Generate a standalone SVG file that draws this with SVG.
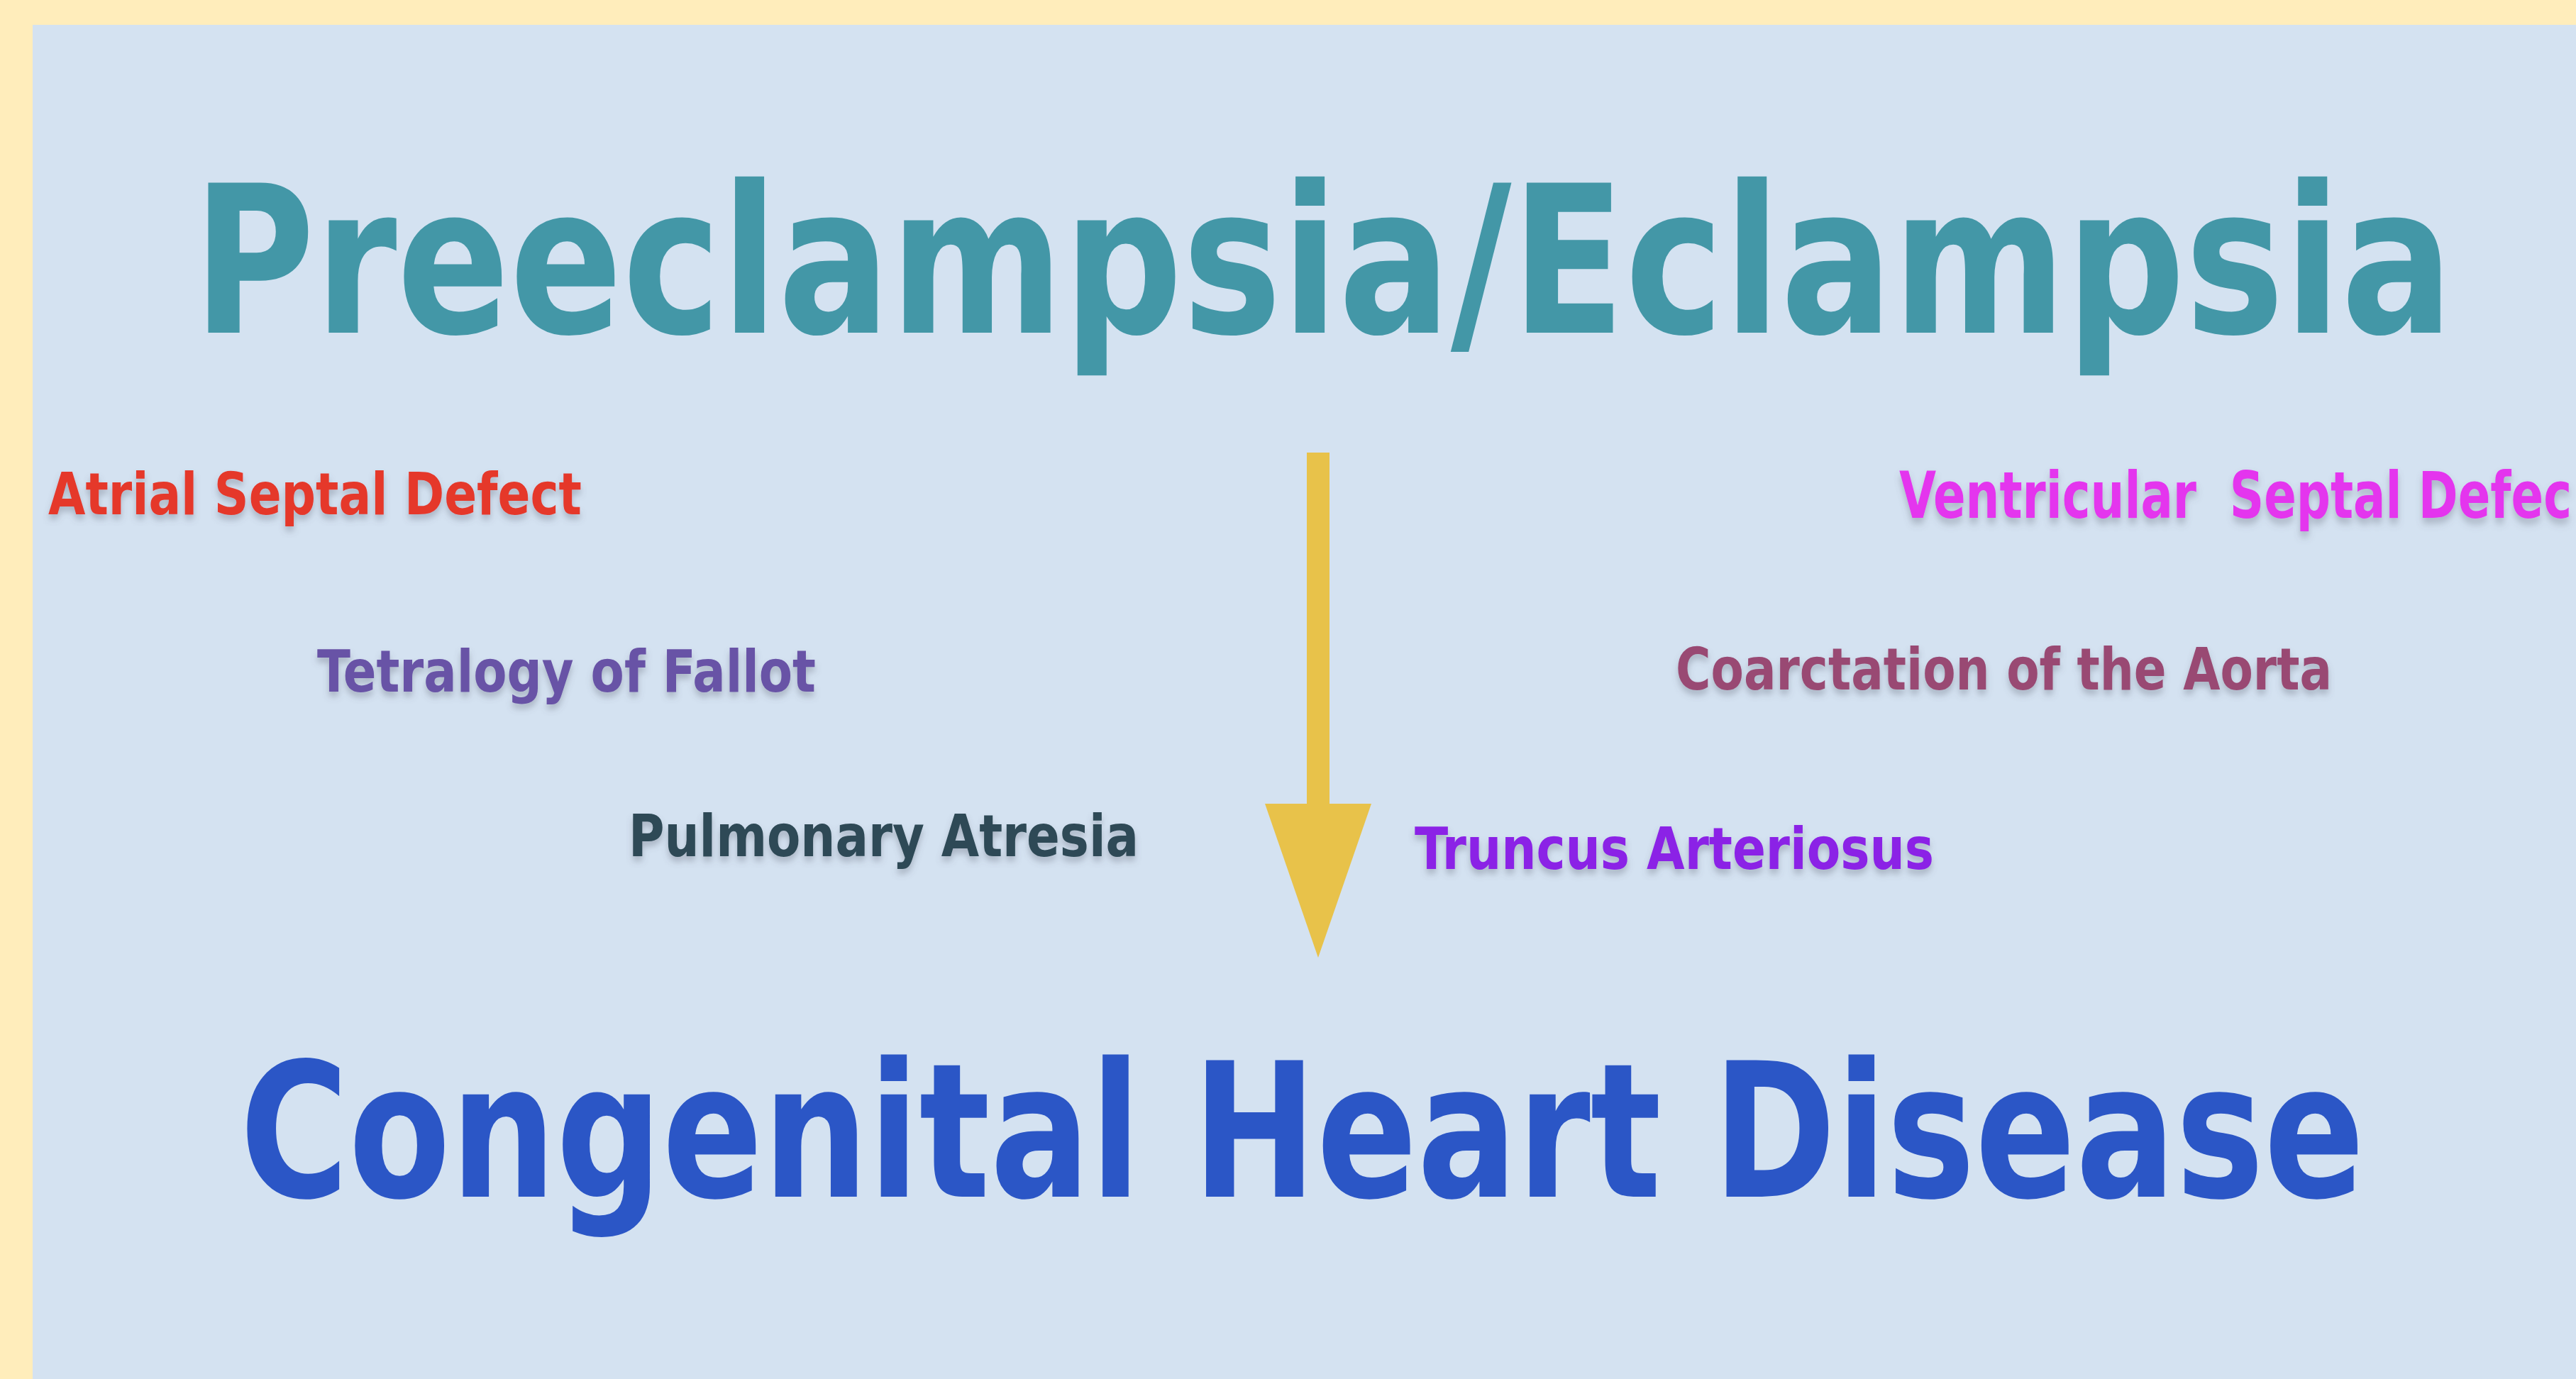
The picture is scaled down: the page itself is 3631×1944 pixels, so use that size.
<svg xmlns="http://www.w3.org/2000/svg" width="3631" height="1944" viewBox="0 0 3631 1944">
<style>
.t{font-family:"DejaVu Sans Condensed","DejaVu Sans","Liberation Sans",sans-serif;font-stretch:condensed;font-weight:bold;}
.lbl{font-family:"DejaVu Sans Condensed","DejaVu Sans","Liberation Sans",sans-serif;font-stretch:condensed;font-weight:bold;font-size:82px;filter:url(#sh);}
</style>
<defs>
<filter id="sh" x="-10%" y="-50%" width="120%" height="200%">
<feDropShadow dx="0" dy="7" stdDeviation="5" flood-color="#5a6070" flood-opacity="0.35"/>
</filter>
</defs>
<rect x="0" y="0" width="3631" height="1944" fill="#FFEDBB"/>
<rect x="46" y="35" width="3585" height="1909" fill="#D4E2F1"/>
<g id="title">
<text class="t" transform="translate(272,469) scale(1,1.2609)" x="0" y="0" font-size="230" fill="#4397A7" textLength="3186" lengthAdjust="spacingAndGlyphs">Preeclampsia/Eclampsia</text>
</g>
<g id="result">
<text class="t" transform="translate(338,1687) scale(1,1.2571)" x="0" y="0" font-size="210" fill="#2B56C6" textLength="2995" lengthAdjust="spacingAndGlyphs">Congenital Heart Disease</text>
</g>
<g id="asd"><text class="lbl" x="68" y="725" fill="#E5372A" textLength="752" lengthAdjust="spacingAndGlyphs">Atrial Septal Defect</text></g>
<g id="tof"><text class="lbl" x="447" y="975" fill="#6852A6" textLength="703" lengthAdjust="spacingAndGlyphs">Tetralogy of Fallot</text></g>
<g id="pa"><text class="lbl" x="886" y="1207" fill="#2D4A56" textLength="719" lengthAdjust="spacingAndGlyphs">Pulmonary Atresia</text></g>
<g id="vsd"><text class="lbl" transform="translate(2677,730) scale(1,1.1)" x="0" y="0" font-size="77" fill="#E434EE" textLength="948" lengthAdjust="spacingAndGlyphs" xml:space="preserve">Ventricular  Septal Defec</text></g>
<g id="coa"><text class="lbl" x="2362" y="972" font-size="85" fill="#994A73" textLength="925" lengthAdjust="spacingAndGlyphs">Coarctation of the Aorta</text></g>
<g id="ta"><text class="lbl" x="1994" y="1225" fill="#8B22E6" textLength="732" lengthAdjust="spacingAndGlyphs">Truncus Arteriosus</text></g>
<g id="connectors">
<rect x="1842" y="638" width="32" height="500" fill="#E8C24A"/>
<polygon points="1783,1133 1933,1133 1858,1350" fill="#E8C24A"/>
</g>
</svg>
